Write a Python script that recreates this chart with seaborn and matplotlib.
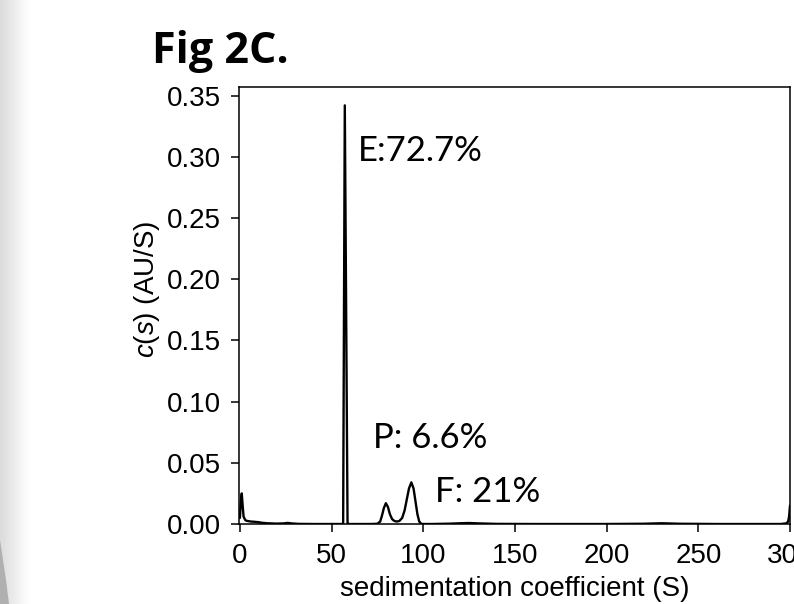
import numpy as np
import pandas as pd
import matplotlib
matplotlib.use("Agg")
import matplotlib.pyplot as plt
import seaborn as sns
from matplotlib.patches import Polygon

# ---- data ----
sed_coeff = [0.0, 0.5, 1.0, 1.5, 2.0, 3.0, 4.0, 6.0, 8.0, 10.0, 12.0, 15.0, 20.0,
             24.0, 26.0, 28.0, 32.0, 40.0, 50.0, 56.0, 56.3, 57.2, 58.7, 59.0,
             65.0, 72.0, 75.0, 76.5, 77.5, 78.5, 79.6, 80.7, 81.8, 83.0, 84.2,
             85.5, 87.0, 88.5, 89.8, 91.0, 92.2, 93.5, 94.7, 95.8, 96.8, 97.8,
             99.0, 105.0, 115.0, 120.0, 125.0, 130.0, 140.0, 160.0, 200.0,
             220.0, 230.0, 240.0, 260.0, 280.0, 295.0, 298.0, 299.0, 299.5, 300.0]
cs_values = [0.005, 0.018, 0.025, 0.015, 0.006, 0.003, 0.0025, 0.002, 0.0018, 0.0015,
             0.001, 0.0006, 0.0003, 0.0005, 0.0009, 0.0005, 0.0001, 0.0, 0.0, 0.0,
             0.0, 0.342, 0.0, 0.0,
             0.0, 0.0, 0.0002, 0.002, 0.007, 0.013, 0.017, 0.014, 0.008, 0.004, 0.0025,
             0.002, 0.0025, 0.005, 0.011, 0.020, 0.029, 0.034, 0.029, 0.018, 0.008, 0.002,
             0.0, 0.0, 0.0003, 0.0006, 0.0008, 0.0005, 0.0001, 0.0, 0.0,
             0.0002, 0.0006, 0.0002, 0.0, 0.0, 0.0, 0.0005, 0.002, 0.006, 0.015]

peak_labels = ["E:72.7%", "P: 6.6%", "F: 21%"]
label_x = [64.4, 72.4, 106.4]
label_y = [0.2967, 0.0623, 0.0183]

x_ticks = [0, 50, 100, 150, 200, 250, 300]
y_ticks = [0.00, 0.05, 0.10, 0.15, 0.20, 0.25, 0.30, 0.35]

title_text = "Fig 2C."
x_label = "sedimentation coefficient (S)"
y_label = r"$c$($s$) (AU/S)"

# ---- style ----
sns.set_style("ticks")
plt.rcParams["font.family"] = ["Liberation Sans", "DejaVu Sans"]
plt.rcParams["mathtext.fontset"] = "custom"
plt.rcParams["mathtext.it"] = "Liberation Sans:italic"
plt.rcParams["mathtext.rm"] = "Liberation Sans"

fig = plt.figure(figsize=(7.94, 6.04), dpi=100)
fig.patch.set_facecolor("white")

# left-edge grey slide background
bg = fig.add_axes([0, 0, 1, 1], zorder=-10)
bg.set_xlim(0, 794)
bg.set_ylim(604, 0)
bg.axis("off")
grad = np.linspace(0.86, 1.0, 64).reshape(1, -1)
bg.imshow(grad, extent=[0, 30, 604, 0], cmap="gray", vmin=0, vmax=1, aspect="auto")
bg.add_patch(Polygon([[0, 540], [3, 560], [6, 580], [9, 604], [0, 604]], closed=True,
                     facecolor="#b0b0b0", edgecolor="none"))

ax = fig.add_axes([239 / 794, 1 - 524 / 604, (790 - 239) / 794, (524 - 87) / 604])
df = pd.DataFrame({"s": sed_coeff, "c": cs_values})
sns.lineplot(data=df, x="s", y="c", ax=ax, color="black", linewidth=1.7,
             estimator=None, sort=False)

ax.set_xlim(-0.5, 300)
ax.set_ylim(0, 0.357)
ax.set_xticks(x_ticks)
ax.set_xticklabels([str(t) for t in x_ticks])
ax.set_yticks(y_ticks)
ax.set_yticklabels([f"{t:.2f}" for t in y_ticks])
ax.tick_params(axis="both", labelsize=20, length=6, width=1.1, direction="out",
               color="black", labelcolor="black")
ax.tick_params(axis="y", pad=7)
ax.tick_params(axis="x", pad=8)
for sp in ax.spines.values():
    sp.set_color("black")
    sp.set_linewidth(1.1)

ax.set_xlabel(x_label, fontsize=20, color="black", labelpad=5)
ax.set_ylabel(y_label, fontsize=20, color="black")
ax.yaxis.set_label_coords(-0.14, 0.538)

for t, xx, yy in zip(peak_labels, label_x, label_y):
    ax.text(xx, yy, t, fontsize=25, family=["Lato", "DejaVu Sans"],
            ha="left", va="baseline", color="black")

fig.text(152 / 794, 1 - 63 / 604, title_text, fontsize=31, fontweight="bold",
         family=["Open Sans", "DejaVu Sans"], ha="left", va="baseline", color="black")

fig.savefig("out.png", dpi=100, facecolor="white")
